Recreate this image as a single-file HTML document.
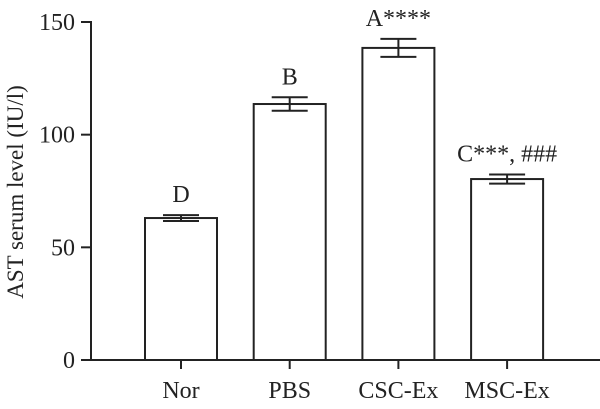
<!DOCTYPE html>
<html><head><meta charset="utf-8"><style>
html,body{margin:0;padding:0;background:#fff}
svg{display:block;font-family:"Liberation Serif",serif}
</style></head><body>
<svg id="chart" width="600" height="409" viewBox="0 0 600 409">
<g id="axes"></g><g id="bars"></g>
</svg>
<script>
const categories = ["Nor","PBS","CSC-Ex","MSC-Ex"];
const values = [63, 113.6, 138.5, 80.3];
const errors = [1.3, 3, 4, 2];
const sigLabels = ["D","B","A****","C***, ###"];
const yTicks = [0,50,100,150];

const NS="http://www.w3.org/2000/svg";
const x0=91, yBase=360, yTop=22, yMax=150;
const y = v => yBase - v/yMax*(yBase-yTop);
const xC = i => 181 + i*108.7;
const barW = 72;
function mk(tag, attrs, parent, text){
  const e=document.createElementNS(NS,tag);
  for(const k in attrs) e.setAttribute(k,attrs[k]);
  if(text!==undefined) e.textContent=text;
  parent.appendChild(e); return e;
}
const axes=document.getElementById('axes'), bars=document.getElementById('bars');
const st={stroke:"#222","stroke-width":2,fill:"none"};
let yl=mk('line',Object.assign({x1:x0,y1:yTop-1,x2:x0,y2:yBase},st),axes);


let xl=mk('line',Object.assign({x1:x0,y1:yBase,x2:600,y2:yBase},st),axes);


yTicks.forEach(t=>{
  let tk=mk('line',Object.assign({x1:81,y1:y(t),x2:x0,y2:y(t)},st),axes);
  
  
  let tl=mk('text',{x:75,y:y(t)+8,"text-anchor":"end","font-size":24,fill:"#222"},axes,String(t));
  
  
});
let yt=mk('text',{transform:"translate(23,192) rotate(-90)","text-anchor":"middle","font-size":23,fill:"#222"},axes,"AST serum level (IU/l)");


categories.forEach((c,i)=>{
  const cx=xC(i);
  let tk=mk('line',Object.assign({x1:cx,y1:yBase,x2:cx,y2:yBase+9},st),axes);
  
  
  let tl=mk('text',{x:cx,y:398,"text-anchor":"middle","font-size":24,fill:"#222"},axes,c);
  
  
  let b=mk('rect',{x:cx-barW/2,y:y(values[i]),width:barW,height:yBase-y(values[i]),fill:"#fff",stroke:"#222","stroke-width":2},bars);
  
  
  const yh=y(values[i]+errors[i]), yl2=y(values[i]-errors[i]);
  let eg=mk('g',{stroke:"#222","stroke-width":2},bars);
  
  
  mk('line',{x1:cx,y1:yh,x2:cx,y2:yl2},eg);
  mk('line',{x1:cx-18,y1:yh,x2:cx+18,y2:yh},eg);
  mk('line',{x1:cx-18,y1:yl2,x2:cx+18,y2:yl2},eg);
  let sl=mk('text',{x:cx,y:yh-13,"text-anchor":"middle","font-size":24,fill:"#222"},bars,sigLabels[i]);
  
  
});
</script>
</body></html>
